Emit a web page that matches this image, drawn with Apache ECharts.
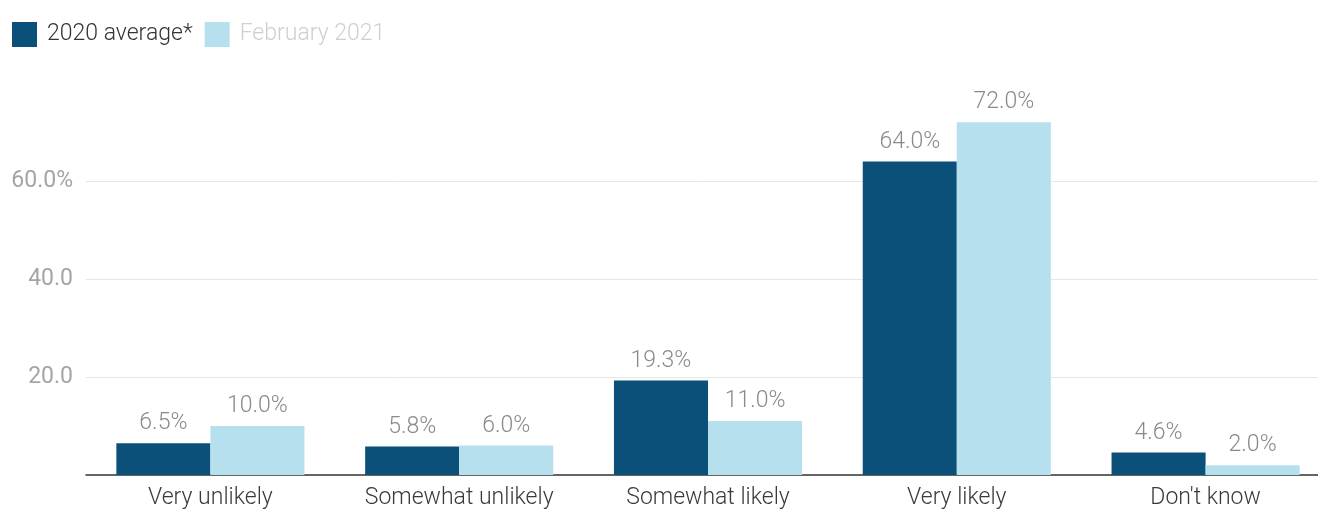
<!DOCTYPE html>
<html>
<head>
<meta charset="utf-8">
<script src="https://cdn.jsdelivr.net/npm/echarts@6/dist/echarts.min.js"></script>
<style>
html,body{margin:0;padding:0;background:#fff;}
#chart{width:1318px;height:509px;}
</style>
</head>
<body>
<div id="chart"></div>
<script>
const categories = ['Very unlikely', 'Somewhat unlikely', 'Somewhat likely', 'Very likely', "Don't know"];
const avg2020 = [6.5, 5.8, 19.3, 64.0, 4.6];
const feb2021 = [10.0, 6.0, 11.0, 72.0, 2.0];
const seriesNames = ['2020 average*', 'February 2021'];
const yTicks = [0, 20, 40, 60, 80];

const chart = echarts.init(document.getElementById('chart'));
const font = 'Roboto, "Noto Sans", sans-serif';
const labelCfg = {
  show: true, position: 'top', distance: 8,
  color: '#8a8a8a', fontSize: 23, fontWeight: 300, fontFamily: font,
  formatter: p => p.value.toFixed(1) + '%'
};
chart.setOption({
  animation: false,
  legend: {
    left: 12, top: 22, padding: 0, itemWidth: 25, itemHeight: 25, itemGap: 12,
    icon: 'rect',
    textStyle: { fontSize: 23, fontWeight: 300, fontFamily: font, padding: [0, 0, 0, 5] },
    data: [
      { name: seriesNames[0], textStyle: { color: '#333' } },
      { name: seriesNames[1], textStyle: { color: '#cfcfcf' } }
    ]
  },
  grid: { left: 86, width: 1244, top: 83, bottom: 34, containLabel: false, outerBoundsMode: 'none' },
  xAxis: {
    type: 'category', data: categories,
    axisLine: { lineStyle: { color: '#333', width: 1.5 } },
    axisTick: { show: false },
    axisLabel: { color: '#3a3a3a', fontSize: 23, fontWeight: 300, fontFamily: font, margin: 12 }
  },
  yAxis: {
    type: 'value', min: yTicks[0], max: yTicks[yTicks.length - 1], interval: 20,
    axisLine: { show: false }, axisTick: { show: false },
    splitLine: { show: true, showMinLine: false, showMaxLine: false, lineStyle: { color: '#e6e6e6', width: 1 } },
    axisLabel: {
      color: '#a5a5a5', fontSize: 23, fontWeight: 400, fontFamily: font, margin: 13,
      showMinLabel: false, showMaxLabel: false,
      formatter: v => v === 60 ? '60.0%' : (v === 0 || v === 80 ? '' : v.toFixed(1))
    }
  },
  series: [
    { name: seriesNames[0], type: 'bar', data: avg2020, barGap: '0%', barCategoryGap: '24.4%',
      itemStyle: { color: '#0a5079' }, label: labelCfg },
    { name: seriesNames[1], type: 'bar', data: feb2021, barGap: '0%', barCategoryGap: '24.4%',
      itemStyle: { color: '#b7e0ee' }, label: labelCfg }
  ]
});
</script>
</body>
</html>
